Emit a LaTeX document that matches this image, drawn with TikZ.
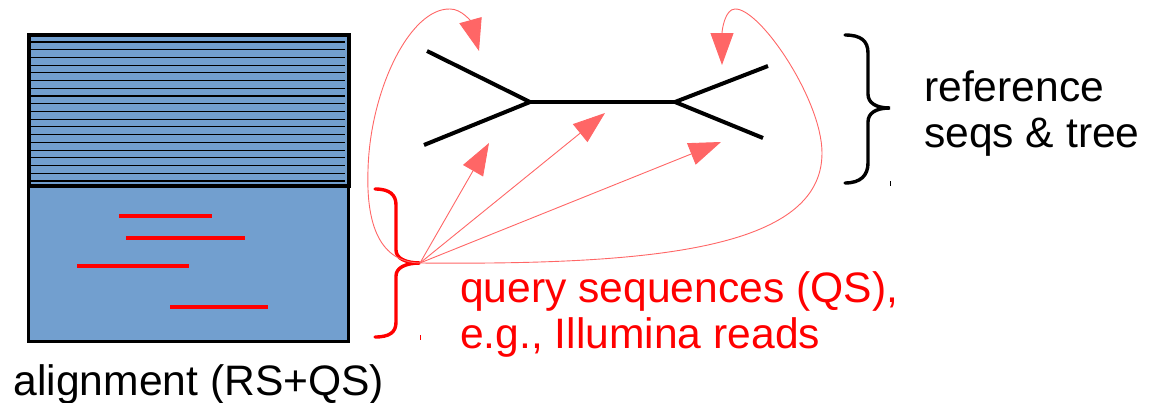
\documentclass[tikz,border=0pt]{standalone}
\usepackage{fontspec}
\setmainfont{Liberation Sans}
\usetikzlibrary{arrows.meta,calc}
\definecolor{boxblue}{HTML}{729FCF}
\definecolor{arrred}{HTML}{FF6666}
\definecolor{qred}{HTML}{FF0000}
\tikzset{
  lbl/.style={inner sep=0pt, anchor=base west, align=left,
    font=\fontsize{42.6}{46}\selectfont},
  readline/.style={qred, line width=3.6pt},
  treeline/.style={black, line width=4pt},
  ptr/.style={arrred, line width=0.9pt,
    -{Triangle[length=32pt,width=23pt]}},
  brace/.style={line width=3.4pt, line cap=round},
  tick/.style={line width=1pt},
}
\begin{document}
\begin{tikzpicture}[x=1pt,y=-1pt]
\useasboundingbox (0,0) rectangle (1160,402);
% alignment boxes
\node[draw=black, line width=3pt, fill=boxblue, minimum width=320pt, minimum height=155pt,
  inner sep=0pt, anchor=north west] (qs) at (27,185) {};
\node[draw=black, line width=4pt, fill=boxblue, minimum width=320pt, minimum height=151pt,
  inner sep=0pt, anchor=north west] (rs) at (27,33) {};
\foreach \i in {0,...,18}{
  \draw[line width=1.1pt] ($(rs.north west)+(2,9+7.72*\i)$) -- ++(316,0);
}
% reads
\coordinate (r1a) at (119,216); \coordinate (r1b) at (212,216);
\coordinate (r2a) at (126,238); \coordinate (r2b) at (245,238);
\coordinate (r3a) at (77,266);  \coordinate (r3b) at (189,266);
\coordinate (r4a) at (170,307); \coordinate (r4b) at (268,307);
\draw[readline] (r1a) -- (r1b);
\draw[readline] (r2a) -- (r2b);
\draw[readline] (r3a) -- (r3b);
\draw[readline] (r4a) -- (r4b);
% tree
\coordinate (j1) at (530,102);
\coordinate (j2) at (675,102);
\coordinate (l1) at (427,51);
\coordinate (l2) at (424,145);
\coordinate (l3) at (768,66);
\coordinate (l4) at (763,138);
\draw[treeline] (l1) -- (j1) -- (l2);
\draw[treeline] (j1) -- (j2);
\draw[treeline] (l3) -- (j2) -- (l4);
% braces
\draw[brace, qred] (375,189) .. controls (390,189) and (396,195) .. (396,205)
  -- (396,250) .. controls (396,258) and (405,263) .. (420,263)
  .. controls (405,263) and (396,268) .. (396,276)
  -- (396,322) .. controls (396,332) and (390,337) .. (375,337);
\coordinate (src) at (420,263);
\draw[brace, black] (845,35) .. controls (861,35) and (868,41) .. (868,53)
  -- (868,94) .. controls (868,103) and (876,108) .. (890,108)
  .. controls (876,108) and (868,113) .. (868,122)
  -- (868,163) .. controls (868,175) and (861,183) .. (845,183);
\draw[tick] (890,181) -- (890,186);
\draw[tick, qred] (420,335) -- (420,340);
% arrows
\coordinate (t1) at (489,143);
\coordinate (t2) at (605,113);
\coordinate (t3) at (721,142);
\coordinate (t4) at (479,51);
\coordinate (t5) at (722,65);
\draw[ptr] (src) -- (t1);
\draw[ptr] (src) -- (t2);
\draw[ptr] (src) -- (t3);
\draw[ptr] (src) .. controls (380,262) and (366,225) .. (368,170)
  .. controls (370,90) and (410,8) .. (450,9)
  .. controls (462,9) and (471,22) .. (t4);
\draw[ptr] (src) .. controls (650,265) and (822,250) .. (822,153)
  .. controls (822,100) and (760,8) .. (735,9)
  .. controls (725,9) and (722,30) .. (t5);
% labels
\node[lbl] (alab) at (13.5,395) {alignment (RS+QS)};
\node[lbl] (rlab) at (924,147.5) {reference\\seqs \& tree};
\node[lbl, text=qred] (qlab) at (460,348) {query sequences (QS),\\e.g., Illumina reads};
\end{tikzpicture}
\end{document}
